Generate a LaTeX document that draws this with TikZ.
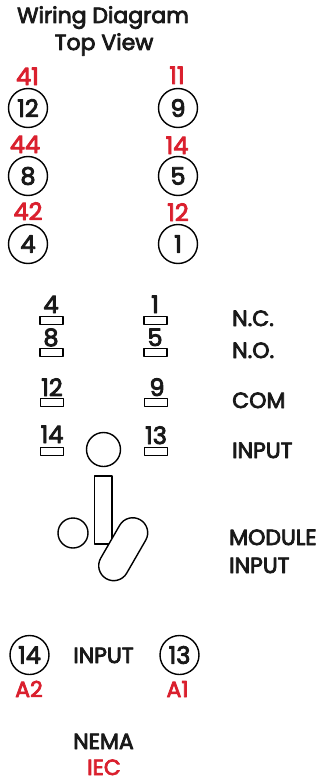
\documentclass[tikz,border=0pt]{standalone}
\usepackage{fontspec}
\setmainfont{Poppins}[FakeBold=3.6]
\usetikzlibrary{shapes.misc}
\definecolor{pinred}{RGB}{218,32,46}
\begin{document}
\begin{tikzpicture}[line cap=round,line join=round,x=1pt,y=-1pt,
  txt/.style={font=\fontsize{22}{24}\selectfont,text=black!90,inner sep=0pt,anchor=base},
  num/.style={txt,font=\fontsize{24}{26}\selectfont},
  lab/.style={txt,anchor=base west},
  redlab/.style={txt,text=pinred},
  rednum/.style={num,text=pinred},
  pin/.style={circle,draw,line width=1.4pt,minimum size=39pt,inner sep=0pt,font=\fontsize{24}{26}\selectfont,text=black!90},
  socket/.style={draw,line width=1.3pt,minimum width=23pt,minimum height=8pt,inner sep=0pt},
  part/.style={draw,line width=1.4pt,fill=white}]
\useasboundingbox (0,0) rectangle (331,784);
\node[txt] (title1) at (103,23) {Wiring Diagram};
\node[txt] (title2) at (104,50) {Top View};
\node[rednum] (r41) at (27.5,85) {41};
\node[rednum] (r11) at (177,84) {11};
\node[pin] (c12) at (28,108) {12};
\node[pin] (c9) at (178,108) {9};
\node[rednum] (r44) at (25,153) {44};
\node[rednum] (r14) at (177,154) {14};
\node[pin] (c8) at (28,176) {8};
\node[pin] (c5) at (178,176) {5};
\node[rednum] (r42) at (28,220) {42};
\node[rednum] (r12) at (178,221) {12};
\node[pin] (c4) at (28,244) {4};
\node[pin] (c1) at (178,244) {1};
\node[socket] (s4) at (51.5,320.5) {};
\node[socket] (s1) at (155.5,320.5) {};
\node[socket] (s8) at (51.5,352.5) {};
\node[socket] (s5) at (155.5,352.5) {};
\node[socket] (s12) at (52,402.5) {};
\node[socket] (s9) at (156,402.5) {};
\node[socket] (s14) at (52,451.5) {};
\node[socket] (s13) at (156,451.5) {};
\node[num] (n4) at (51,313) {4};
\node[num] (n1) at (155,313) {1};
\node[num] (n8) at (51,346) {8};
\node[num] (n5) at (155,346) {5};
\node[num] (n12) at (52,396) {12};
\node[num] (n9) at (157,396) {9};
\node[num] (n14) at (52,443) {14};
\node[num] (n13) at (156,444) {13};
\node[lab] (nc) at (232,326) {N.C.};
\node[lab] (no) at (232,358) {N.O.};
\node[lab] (com) at (232,408) {COM};
\node[lab] (input1) at (232,458) {INPUT};
\node[part,circle,minimum size=34pt,inner sep=0pt] (lamp) at (103.5,449.5) {};
\node[part,circle,minimum size=30pt,inner sep=0pt] (knob) at (73,533) {};
\node[part,minimum width=17.5pt,minimum height=68pt,inner sep=0pt] (bar) at (103.2,510) {};
\node[part,rounded rectangle,rotate=60,minimum width=68pt,minimum height=30pt,inner sep=0pt] (lever) at (123.2,549.2) {};
\node[lab] (module) at (229,545) {MODULE};
\node[lab] (input2) at (229,573) {INPUT};
\node[pin] (c14) at (29.5,655) {14};
\node[pin] (c13) at (179.5,655) {13};
\node[txt] (input3) at (103.5,663) {INPUT};
\node[redlab] (a2) at (29,697) {A2};
\node[redlab] (a1) at (177.5,697) {A1};
\node[txt] (nema) at (103.5,749) {NEMA};
\node[redlab] (iec) at (104,775) {IEC};
\end{tikzpicture}
\end{document}
